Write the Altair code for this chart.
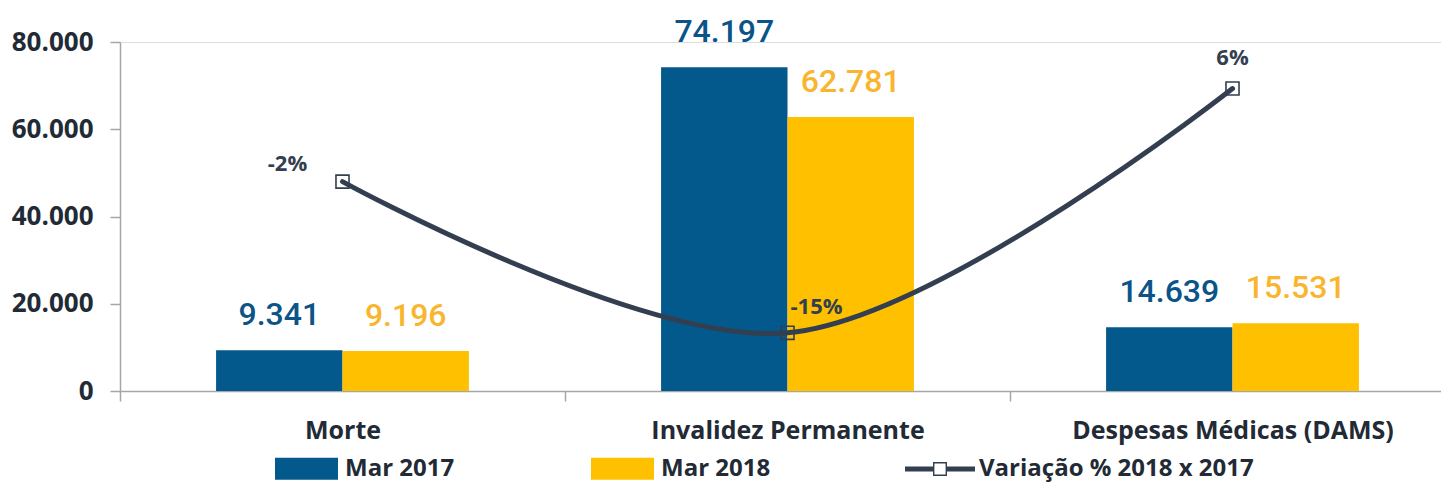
import altair as alt
import pandas as pd

categorias = ["Morte", "Invalidez Permanente", "Despesas Médicas (DAMS)"]
series = ["Mar 2017", "Mar 2018"]
valores_2017 = [9341, 74197, 14639]
valores_2018 = [9196, 62781, 15531]
variacao = [-2, -15, 6]
serie_linha = "Variação % 2018 x 2017"
y_ticks = [0, 20000, 40000, 60000, 80000]


def fmt(v):
    return f"{v:,}".replace(",", ".")


rows = []
for c, a, b in zip(categorias, valores_2017, valores_2018):
    rows.append({"cat": c, "ano": series[0], "valor": a, "rotulo": fmt(a)})
    rows.append({"cat": c, "ano": series[1], "valor": b, "rotulo": fmt(b)})
df_bar = pd.DataFrame(rows)
df_line = pd.DataFrame({
    "cat": categorias,
    "var": variacao,
    "serie": serie_linha,
    "rotulo": [f"{v}%" for v in variacao],
})

BLUE = "#03588C"
YELLOW = "#FFC000"
BLUE_TXT = "#0B5487"
YELLOW_TXT = "#F9B52E"
DARK = "#333F50"
TXT = "#222A35"
AXIS = "#A6A6A6"
FONT = "Open Sans"

x = alt.X(
    "cat:N", sort=categorias, title=None,
    scale=alt.Scale(range=[0, 1335], paddingInner=0, paddingOuter=0),
    axis=alt.Axis(labelAngle=0, labelFontSize=25, labelFontWeight="bold",
                  labelColor=TXT, labelFont=FONT, labelPadding=17,
                  tickBand="extent", tickSize=10, tickColor=AXIS, tickWidth=1.5,
                  domainColor=AXIS, domainWidth=1.5, labelLimit=0),
)
xo = alt.XOffset("ano:N", sort=series, scale=alt.Scale(paddingInner=0, paddingOuter=0.76))
y = alt.Y(
    "valor:Q", title=None,
    scale=alt.Scale(domain=[0, 80000], nice=False),
    axis=alt.Axis(values=y_ticks, grid=False,
                  labelExpr="replace(format(datum.value, ','), ',', '.')",
                  labelFontSize=26, labelFontWeight="bold", labelColor=TXT,
                  labelFont=FONT, tickSize=10, tickColor=AXIS, tickWidth=1.5,
                  domainColor=AXIS, domainWidth=1.5, labelPadding=17),
)

bar_path = "M-1,-0.35H1V0.35H-1Z"
line_path = ("M-1,-0.07H-0.2V0.07H-1Z M0.2,-0.07H1V0.07H0.2Z "
             "M-0.2,-0.2H0.2V0.2H-0.2Z M-0.16,-0.16V0.16H0.16V-0.16Z")

bars = alt.Chart(df_bar).mark_bar().encode(
    x=x, xOffset=xo, y=y,
    color=alt.Color("ano:N", sort=series,
                    scale=alt.Scale(domain=series, range=[BLUE, YELLOW]),
                    legend=alt.Legend(title=None, orient="none", legendX=155, legendY=395,
                                      direction="horizontal", columnPadding=136,
                                      symbolType=bar_path, symbolSize=3969,
                                      symbolStrokeWidth=0, labelFont=FONT,
                                      labelFontSize=24, labelFontWeight="bold",
                                      labelColor=TXT, labelOffset=7, labelLimit=0)),
)
bar_text = alt.Chart(df_bar).mark_text(
    font="Roboto", fontSize=32, fontWeight=500, baseline="alphabetic", align="center", dy=-25
).encode(
    x=x, xOffset=xo, y=y, text="rotulo:N",
    color=alt.condition(alt.datum.ano == series[0], alt.value(BLUE_TXT), alt.value(YELLOW_TXT)),
)

y2 = alt.Y("var:Q", scale=alt.Scale(domain=[-20, 10], nice=False), axis=None)

line = alt.Chart(df_line).mark_line(
    interpolate="catmull-rom", strokeWidth=5, strokeCap="round"
).encode(
    x=x, y=y2,
    stroke=alt.Stroke("serie:N", scale=alt.Scale(domain=[serie_linha], range=[DARK]),
                      legend=alt.Legend(title=None, orient="none", legendX=785, legendY=392,
                                        symbolType=line_path, symbolSize=4900,
                                        symbolFillColor=DARK, symbolStrokeColor="transparent",
                                        symbolStrokeWidth=0,
                                        labelFont=FONT, labelFontSize=24,
                                        labelFontWeight="bold", labelColor=TXT,
                                        labelOffset=4, labelLimit=0)),
)
points = alt.Chart(df_line).mark_point(
    shape="square", size=170, filled=False, stroke=DARK, strokeWidth=1.6, opacity=1
).encode(x=x, y=y2)

offsets = [(-55, -18), (29, -26), (0, -31)]
line_texts = []
for c, (ddx, ddy) in zip(categorias, offsets):
    line_texts.append(
        alt.Chart(df_line).transform_filter(alt.datum.cat == c).mark_text(
            font=FONT, fontSize=22, fontWeight="bold", color=DARK,
            align="center", baseline="middle", dx=ddx, dy=ddy
        ).encode(x=x, y=y2, text="rotulo:N")
    )

chart = alt.layer(
    alt.layer(bars, bar_text),
    alt.layer(line, points, *line_texts),
).resolve_scale(y="independent").properties(
    width=1321, height=349,
    autosize=alt.AutoSizeParams(type="none"),
    padding={"left": 112, "top": 34, "right": 0, "bottom": 92},
).configure_view(stroke=None).configure(background="white")

chart.save("out.html", embed_options={"renderer": "svg", "actions": False})
